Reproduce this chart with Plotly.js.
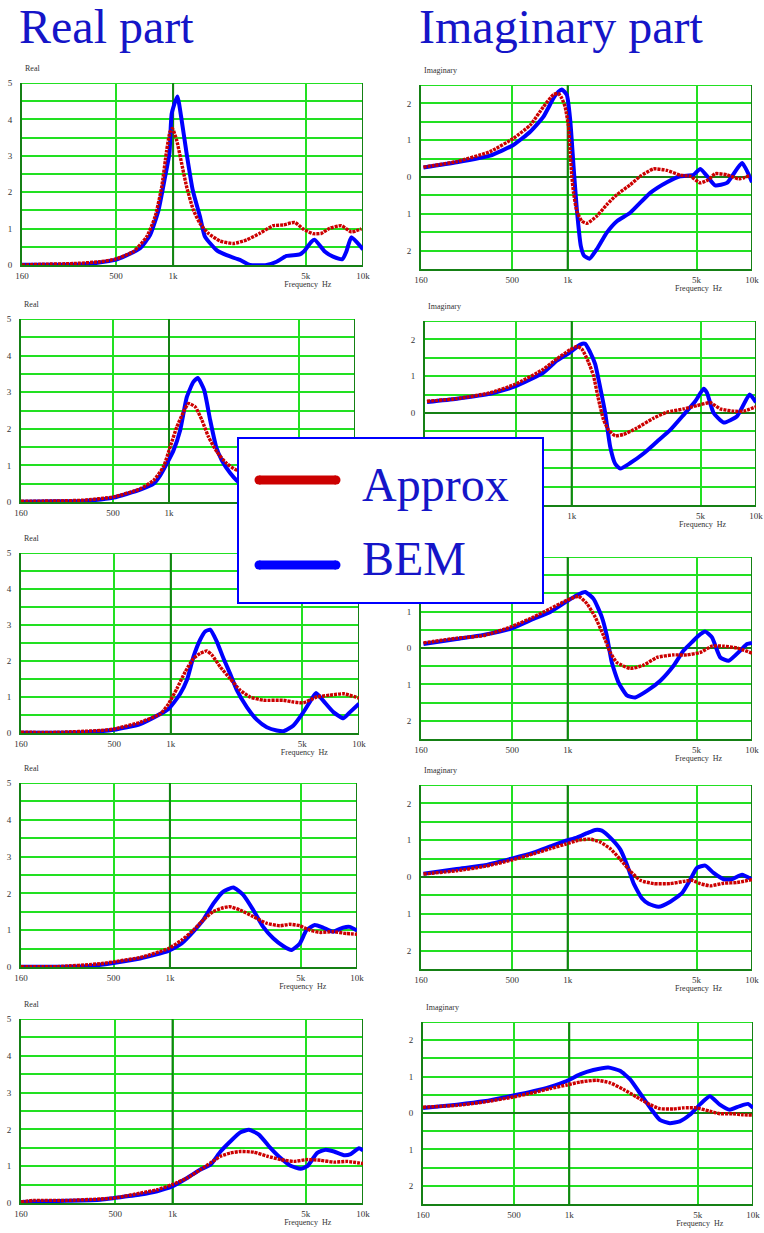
<!DOCTYPE html>
<html><head><meta charset="utf-8">
<script src="https://cdn.plot.ly/plotly-3.0.1.min.js"></script>
<style>html,body{margin:0;padding:0;background:#fff}</style>
</head><body><div id="chart" style="width:764px;height:1233px"></div>
<script>
// ---------- tick labels ----------
const xTickVals = [160, 500, 1000, 5000, 10000];
const xTickText = ['160', '500', '1k', '5k', '10k'];
const realTickVals = [0, 1, 2, 3, 4, 5];
const realTickText = ['0', '1', '2', '3', '4', '5'];
const imagTickVals = [-2, -1, 0, 1, 2];
const imagTickText = ['2', '1', '0', '1', '2'];
const seriesNames = ['BEM', 'Approx'];

// ---------- row 1 ----------
const r1BemF = [160, 250, 340, 400, 495, 560, 670, 756, 837, 907, 956, 983, 1053, 1109, 1178, 1268, 1385, 1471, 1694, 1912, 2248, 2537, 3104, 3504, 3955, 4646, 4900, 5351, 5572, 6288, 6957, 7787, 8174, 8683, 10000];
const r1BemV = [0.01, 0.01, 0.02, 0.06, 0.14, 0.25, 0.46, 0.82, 1.5, 2.42, 3.06, 4.16, 4.63, 3.98, 3.06, 2.06, 1.33, 0.78, 0.41, 0.27, 0.14, 0.0, 0.0, 0.09, 0.25, 0.29, 0.38, 0.64, 0.69, 0.37, 0.23, 0.16, 0.37, 0.76, 0.43];
const r1ApxF = [160, 200, 300, 413, 495, 618, 726, 804, 871, 925, 963, 991, 1044, 1109, 1178, 1278, 1385, 1532, 1765, 2073, 2437, 2862, 3365, 3798, 4374, 4838, 5461, 6040, 6682, 7693, 8683, 9800];
const r1ApxV = [0.0, 0.02, 0.04, 0.09, 0.16, 0.37, 0.78, 1.33, 2.15, 3.15, 3.66, 3.75, 3.43, 2.79, 2.15, 1.51, 1.14, 0.87, 0.66, 0.59, 0.69, 0.87, 1.08, 1.10, 1.17, 0.99, 0.86, 0.87, 1.01, 1.08, 0.91, 0.99];
const i1BemF = [165, 250, 379, 507, 626, 739, 837, 891, 929, 989, 1032, 1076, 1121, 1178, 1228, 1313, 1440, 1630, 1849, 2185, 2806, 3455, 4082, 4821, 5240, 5818, 6312, 7315, 8824, 10000];
const i1BemV = [0.26, 0.40, 0.58, 0.87, 1.23, 1.64, 2.14, 2.32, 2.38, 2.23, 1.55, 0.29, -0.88, -1.87, -2.14, -2.22, -1.96, -1.51, -1.20, -0.97, -0.43, -0.14, 0.02, 0.06, 0.22, -0.03, -0.23, -0.16, 0.38, -0.14];
const i1ApxF = [165, 250, 379, 507, 626, 739, 837, 891, 929, 968, 1010, 1032, 1053, 1076, 1121, 1193, 1271, 1440, 1630, 1849, 2185, 2475, 2923, 3455, 4082, 4627, 5240, 5818, 6312, 7315, 8465, 9800];
const i1ApxV = [0.27, 0.42, 0.69, 1.05, 1.41, 1.91, 2.24, 2.27, 2.14, 1.91, 1.37, 0.65, 0.02, -0.43, -0.93, -1.20, -1.26, -1.06, -0.75, -0.48, -0.21, 0.02, 0.22, 0.18, 0.05, 0.02, -0.16, -0.07, 0.09, 0.06, -0.05, 0.04];

// ---------- row 2 ----------
const r2BemF = [160, 250, 347, 503, 700, 826, 897, 973, 1057, 1148, 1247, 1352, 1428, 1545, 1664, 1792, 1922, 2131, 2312, 2700, 3200, 3700, 4300, 5000, 5600, 6300, 7200, 8200, 10000];
const r2BemV = [0.01, 0.02, 0.03, 0.12, 0.34, 0.50, 0.73, 1.05, 1.41, 1.96, 2.87, 3.28, 3.39, 3.06, 2.24, 1.51, 1.14, 0.79, 0.59, 0.35, 0.15, 0.10, 0.25, 0.60, 0.85, 0.70, 0.55, 0.75, 0.90];
const r2ApxF = [160, 250, 347, 503, 700, 826, 933, 1015, 1101, 1196, 1273, 1383, 1502, 1630, 1808, 2045, 2312, 2700, 3200, 3800, 4500, 5300, 6200, 7300, 8600, 10000];
const r2ApxV = [0.02, 0.03, 0.05, 0.14, 0.36, 0.59, 0.96, 1.51, 2.05, 2.46, 2.69, 2.60, 2.24, 1.78, 1.37, 1.05, 0.87, 0.82, 0.85, 0.90, 0.95, 1.00, 0.97, 1.02, 1.00, 1.03];
const i2BemF = [164, 238, 361, 493, 703, 830, 981, 1112, 1184, 1260, 1341, 1428, 1520, 1618, 1722, 1833, 2078, 2454, 2899, 3426, 4048, 4684, 5198, 5418, 5890, 6675, 7885, 9237, 10000];
const i2BemV = [0.30, 0.39, 0.52, 0.72, 1.10, 1.42, 1.65, 1.86, 1.88, 1.65, 1.33, 0.69, 0.00, -0.92, -1.38, -1.51, -1.36, -1.10, -0.78, -0.46, -0.05, 0.32, 0.66, 0.55, 0.00, -0.26, -0.09, 0.50, 0.29];
const i2ApxF = [164, 238, 361, 493, 703, 830, 981, 1066, 1135, 1234, 1313, 1398, 1488, 1584, 1722, 1912, 2257, 2782, 3284, 4048, 4781, 5652, 6405, 7565, 8573, 10000];
const i2ApxV = [0.32, 0.39, 0.55, 0.78, 1.19, 1.47, 1.72, 1.81, 1.74, 1.38, 1.01, 0.37, -0.18, -0.46, -0.62, -0.58, -0.41, -0.14, 0.02, 0.11, 0.20, 0.28, 0.11, 0.05, 0.05, 0.17];

// ---------- row 3 ----------
const r3BemF = [160, 250, 350, 497, 688, 973, 1122, 1218, 1320, 1432, 1523, 1619, 1756, 1906, 2066, 2243, 2535, 2862, 3236, 3658, 3968, 4483, 5066, 5608, 5915, 6471, 7309, 8261, 8960, 10000];
const r3BemV = [0.01, 0.01, 0.02, 0.09, 0.25, 0.67, 1.09, 1.47, 2.12, 2.59, 2.82, 2.87, 2.54, 2.07, 1.65, 1.19, 0.72, 0.37, 0.16, 0.07, 0.05, 0.21, 0.58, 0.95, 1.11, 0.89, 0.58, 0.41, 0.58, 0.81];
const r3ApxF = [160, 250, 422, 497, 688, 879, 973, 1077, 1193, 1320, 1432, 1554, 1652, 1829, 2066, 2336, 2640, 3107, 3968, 4483, 5066, 5963, 7016, 8261, 10000];
const r3ApxV = [0.02, 0.02, 0.07, 0.11, 0.30, 0.53, 0.81, 1.23, 1.70, 2.07, 2.21, 2.28, 2.17, 1.84, 1.51, 1.19, 1.00, 0.91, 0.91, 0.86, 0.84, 1.00, 1.05, 1.09, 0.97];
const i3BemF = [165, 250, 349, 497, 652, 804, 989, 1121, 1244, 1381, 1532, 1630, 1736, 1888, 2094, 2326, 2691, 3181, 3752, 4254, 4721, 5134, 5580, 6066, 6732, 7470, 8643, 9397, 10000];
const i3BemV = [0.11, 0.25, 0.36, 0.54, 0.80, 0.99, 1.28, 1.45, 1.54, 1.35, 0.85, 0.34, -0.40, -0.95, -1.30, -1.36, -1.18, -0.90, -0.49, -0.07, 0.16, 0.34, 0.45, 0.29, -0.26, -0.35, -0.07, 0.11, 0.14];
const i3ApxF = [165, 250, 349, 497, 652, 804, 989, 1144, 1271, 1410, 1565, 1701, 1849, 2185, 2581, 3048, 3752, 4436, 5240, 6066, 7016, 8290, 10000];
const i3ApxV = [0.14, 0.27, 0.34, 0.59, 0.85, 1.08, 1.31, 1.42, 1.22, 0.85, 0.34, -0.12, -0.40, -0.56, -0.47, -0.26, -0.19, -0.19, -0.12, 0.05, 0.05, 0.00, -0.14];

// ---------- row 4 ----------
const r4BemF = [160, 250, 380, 499, 693, 982, 1156, 1334, 1508, 1706, 1928, 2181, 2466, 2788, 3153, 3565, 4030, 4464, 4949, 5369, 5948, 6588, 7449, 8423, 9140, 10000];
const r4BemV = [0.01, 0.01, 0.03, 0.11, 0.23, 0.44, 0.64, 0.96, 1.28, 1.72, 2.05, 2.16, 1.96, 1.55, 1.09, 0.78, 0.57, 0.46, 0.64, 1.00, 1.14, 1.07, 0.96, 1.07, 1.09, 0.99];
const r4ApxF = [160, 250, 424, 499, 693, 982, 1156, 1334, 1508, 1706, 1928, 2093, 2368, 2788, 3284, 3869, 4374, 4949, 5593, 6325, 7449, 8773, 10000];
const r4ApxV = [0.01, 0.01, 0.09, 0.14, 0.26, 0.50, 0.73, 1.00, 1.28, 1.51, 1.61, 1.64, 1.55, 1.37, 1.19, 1.12, 1.16, 1.12, 1.00, 0.94, 0.96, 0.91, 0.89];
const i4BemF = [165, 250, 349, 497, 652, 804, 969, 1121, 1271, 1410, 1532, 1701, 1928, 2094, 2277, 2526, 2747, 3112, 3603, 4168, 4627, 5029, 5580, 6189, 7016, 7787, 8824, 10000];
const i4BemV = [0.09, 0.22, 0.31, 0.50, 0.66, 0.83, 0.98, 1.07, 1.19, 1.28, 1.26, 1.07, 0.75, 0.34, -0.17, -0.58, -0.73, -0.81, -0.67, -0.44, -0.07, 0.25, 0.31, 0.11, -0.06, -0.06, 0.06, -0.07];
const i4ApxF = [165, 250, 349, 497, 652, 804, 969, 1144, 1325, 1501, 1701, 1928, 2185, 2475, 2923, 3603, 4254, 4721, 5240, 5935, 7016, 8290, 10000];
const i4ApxV = [0.08, 0.17, 0.28, 0.46, 0.63, 0.77, 0.89, 1.00, 1.03, 0.95, 0.77, 0.48, 0.16, -0.09, -0.18, -0.18, -0.12, -0.09, -0.18, -0.24, -0.17, -0.15, -0.07];

// ---------- row 5 ----------
const r5BemF = [160, 279, 418, 501, 678, 830, 995, 1193, 1402, 1582, 1786, 2016, 2275, 2516, 2840, 3272, 3691, 4168, 4702, 5098, 5753, 6366, 7042, 7945, 8614, 9528, 10000];
const r5BemV = [0.03, 0.06, 0.09, 0.14, 0.23, 0.32, 0.45, 0.68, 0.91, 1.04, 1.40, 1.68, 1.92, 1.99, 1.86, 1.49, 1.22, 1.01, 0.93, 1.00, 1.36, 1.45, 1.40, 1.30, 1.33, 1.49, 1.43];
const r5ApxF = [160, 187, 279, 418, 501, 678, 830, 995, 1193, 1402, 1582, 1786, 2016, 2275, 2674, 3142, 3691, 4339, 5098, 5990, 7042, 8274, 10000];
const r5ApxV = [0.03, 0.07, 0.07, 0.11, 0.14, 0.27, 0.36, 0.50, 0.68, 0.91, 1.09, 1.27, 1.36, 1.40, 1.38, 1.27, 1.18, 1.13, 1.18, 1.16, 1.11, 1.13, 1.07];
const i5BemF = [160, 245, 342, 497, 638, 787, 969, 1144, 1352, 1630, 1888, 2139, 2475, 2806, 3112, 3526, 3998, 4529, 5134, 5818, 6594, 7470, 8465, 9397, 10000];
const i5BemV = [0.14, 0.23, 0.32, 0.48, 0.60, 0.72, 0.88, 1.06, 1.18, 1.25, 1.16, 0.93, 0.48, 0.09, -0.19, -0.28, -0.23, -0.05, 0.23, 0.46, 0.23, 0.09, 0.19, 0.25, 0.14];
const i5ApxF = [160, 245, 342, 497, 638, 787, 969, 1144, 1410, 1666, 1968, 2326, 2747, 3112, 3677, 4168, 4925, 5818, 6594, 7787, 8824, 10000];
const i5ApxV = [0.16, 0.21, 0.30, 0.44, 0.56, 0.67, 0.77, 0.85, 0.90, 0.83, 0.65, 0.44, 0.23, 0.12, 0.11, 0.14, 0.14, 0.05, -0.02, -0.02, -0.05, -0.06];

// ---------- assembly ----------
const W = 764, H = 1233;
const BRIGHT = '#22e022', DARK = '#158015', BLUE = '#0000ff', RED = '#cc0000', TXT_BLUE = '#1515c8';
const SERIF = '"Liberation Serif", "Times New Roman", serif';
const F_MIN = 160, F_MAX = 10000, F_MID = 1000, F_LBL = 5000;

const panels = [
  {kind: 'real', bF: r1BemF, bV: r1BemV, aF: r1ApxF, aV: r1ApxV, box: [22, 363, 83, 265]},
  {kind: 'imag', bF: i1BemF, bV: i1BemV, aF: i1ApxF, aV: i1ApxV, box: [421, 752, 85, 269]},
  {kind: 'real', bF: r2BemF, bV: r2BemV, aF: r2ApxF, aV: r2ApxV, box: [21, 355, 319, 502]},
  {kind: 'imag', bF: i2BemF, bV: i2BemV, aF: i2ApxF, aV: i2ApxV, box: [425, 756, 321, 505]},
  {kind: 'real', bF: r3BemF, bV: r3BemV, aF: r3ApxF, aV: r3ApxV, box: [21, 359, 553, 733]},
  {kind: 'imag', bF: i3BemF, bV: i3BemV, aF: i3ApxF, aV: i3ApxV, box: [421, 752, 557, 739]},
  {kind: 'real', bF: r4BemF, bV: r4BemV, aF: r4ApxF, aV: r4ApxV, box: [21, 357, 783, 967]},
  {kind: 'imag', bF: i4BemF, bV: i4BemV, aF: i4ApxF, aV: i4ApxV, box: [421, 752, 785, 969]},
  {kind: 'real', bF: r5BemF, bV: r5BemV, aF: r5ApxF, aV: r5ApxV, box: [21, 363, 1019, 1203]},
  {kind: 'imag', bF: i5BemF, bV: i5BemV, aF: i5ApxF, aV: i5ApxV, box: [423, 753, 1022, 1204]}
];

const traces = [];
const layout = {
  width: W, height: H, autosize: false,
  margin: {l: 0, r: 0, t: 0, b: 0},
  paper_bgcolor: '#ffffff', plot_bgcolor: '#ffffff',
  showlegend: false,
  font: {family: SERIF, color: '#333'},
  shapes: [], annotations: []
};
const tickFont = {family: SERIF, size: 9, color: '#333'};
const smallFont = {family: SERIF, size: 8, color: '#333'};
const px = v => v / W, py = v => 1 - v / H;
const NOFILL = 'rgba(0,0,0,0)';

panels.forEach((p, k) => {
  const n = k === 0 ? '' : String(k + 1);
  const xa = 'x' + n, ya = 'y' + n;
  const [l, r, t, b] = p.box;
  const isReal = p.kind === 'real';
  const yr = isReal ? [0, 5] : [-2.5, 2.5];
  traces.push({x: p.bF, y: p.bV, xaxis: xa, yaxis: ya, type: 'scatter', mode: 'lines', name: seriesNames[0],
    line: {color: BLUE, width: 4, shape: 'spline', smoothing: 0.5}, hoverinfo: 'skip'});
  traces.push({x: p.aF, y: p.aV, xaxis: xa, yaxis: ya, type: 'scatter', mode: 'lines', name: seriesNames[1],
    line: {color: RED, width: 3.4, dash: '3px,1px', shape: 'spline', smoothing: 0.5}, hoverinfo: 'skip'});
  layout['xaxis' + n] = {
    type: 'log', range: [Math.log10(F_MIN), Math.log10(F_MAX)], domain: [l / W, r / W], anchor: ya,
    tickmode: 'array', tickvals: xTickVals, ticktext: xTickText, ticks: '',
    showgrid: true, gridcolor: BRIGHT, gridwidth: 2,
    showline: true, linecolor: DARK, linewidth: 2, zeroline: false,
    tickfont: tickFont, ticklabelstandoff: 1, fixedrange: true
  };
  layout['yaxis' + n] = {
    range: yr, domain: [1 - b / H, 1 - t / H], anchor: xa,
    tickmode: 'array', tickvals: isReal ? realTickVals : imagTickVals, ticktext: isReal ? realTickText : imagTickText,
    ticks: '', showgrid: true, gridcolor: BRIGHT, gridwidth: 2,
    minor: {tickmode: 'array', tickvals: isReal ? [0.5, 1.5, 2.5, 3.5, 4.5] : [-1.5, -0.5, 0.5, 1.5],
            showgrid: true, gridcolor: BRIGHT, gridwidth: 2, ticks: ''},
    showline: true, linecolor: DARK, linewidth: 2,
    zeroline: !isReal, zerolinecolor: DARK, zerolinewidth: 2,
    tickfont: tickFont, ticklabelstandoff: 6, fixedrange: true
  };
  // frame + 1k line (between grid and traces)
  layout.shapes.push({type: 'line', xref: xa, yref: ya, x0: F_MIN, x1: F_MAX, y0: yr[1], y1: yr[1],
    line: {color: BRIGHT, width: 2}, layer: 'between'});
  layout.shapes.push({type: 'line', xref: xa, yref: ya, x0: F_MID, x1: F_MID, y0: yr[0], y1: yr[1],
    line: {color: DARK, width: 2}, layer: 'between'});
  layout.shapes.push({type: 'line', xref: xa, yref: ya, x0: F_MAX, x1: F_MAX, y0: yr[0], y1: yr[1],
    line: {color: DARK, width: 2}, layer: 'between'});
  // small labels as shape labels, so that the legend box can cover them
  layout.shapes.push({type: 'rect', xref: 'paper', yref: 'paper', x0: px(l), x1: px(l + 80),
    y0: py(t - 10), y1: py(t - 22), fillcolor: NOFILL, line: {width: 0}, layer: 'above',
    label: {text: isReal ? 'Real' : 'Imaginary', textposition: 'middle left', padding: 0, font: smallFont}});
  const fx = l + (Math.log10(F_LBL) - Math.log10(F_MIN)) / (Math.log10(F_MAX) - Math.log10(F_MIN)) * (r - l) + 2;
  layout.shapes.push({type: 'rect', xref: 'paper', yref: 'paper', x0: px(fx - 40), x1: px(fx + 40),
    y0: py(b + 24), y1: py(b + 12), fillcolor: NOFILL, line: {width: 0}, layer: 'above',
    label: {text: 'Frequency\u00a0\u00a0Hz', textposition: 'middle center', padding: 0, font: smallFont}});
});

// big titles
layout.annotations.push({text: 'Real part', xref: 'paper', yref: 'paper', x: 17 / W, y: 1 - 26 / H,
  xanchor: 'left', yanchor: 'middle', showarrow: false, font: {family: SERIF, size: 48, color: TXT_BLUE}});
layout.annotations.push({text: 'Imaginary part', xref: 'paper', yref: 'paper', x: 417 / W, y: 1 - 26 / H,
  xanchor: 'left', yanchor: 'middle', showarrow: false, font: {family: SERIF, size: 48, color: TXT_BLUE}});

// legend box
layout.shapes.push({type: 'rect', xref: 'paper', yref: 'paper', x0: px(238), x1: px(543), y0: py(603), y1: py(438),
  fillcolor: '#ffffff', line: {color: BLUE, width: 2}, layer: 'above'});
[[RED, 480], [BLUE, 565]].forEach(([c, yy]) => {
  layout.shapes.push({type: 'line', xref: 'paper', yref: 'paper', x0: px(259), x1: px(336), y0: py(yy), y1: py(yy),
    line: {color: c, width: 9}, layer: 'above'});
  [259, 336].forEach(xx => layout.shapes.push({type: 'circle', xref: 'paper', yref: 'paper',
    x0: px(xx - 4.5), x1: px(xx + 4.5), y0: py(yy + 4.5), y1: py(yy - 4.5),
    fillcolor: c, line: {width: 0}, layer: 'above'}));
});
layout.annotations.push({text: seriesNames[1], xref: 'paper', yref: 'paper', x: px(360), y: py(484),
  xanchor: 'left', yanchor: 'middle', showarrow: false, font: {family: SERIF, size: 48, color: TXT_BLUE}});
layout.annotations.push({text: seriesNames[0], xref: 'paper', yref: 'paper', x: px(360), y: py(558),
  xanchor: 'left', yanchor: 'middle', showarrow: false, font: {family: SERIF, size: 48, color: TXT_BLUE}});

Plotly.newPlot('chart', traces, layout, {displayModeBar: false, staticPlot: true});
</script>
</body></html>
